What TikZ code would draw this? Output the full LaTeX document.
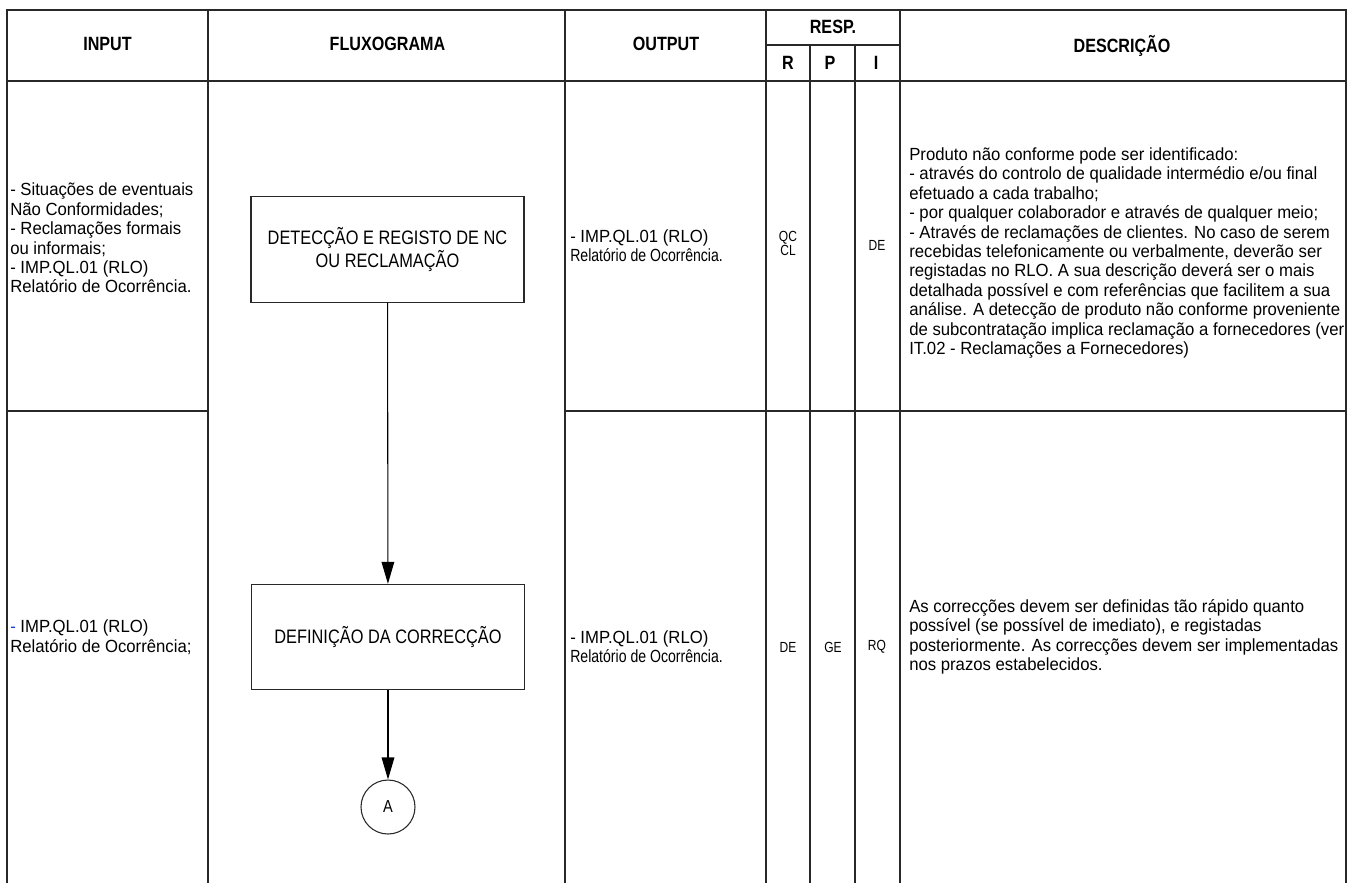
\documentclass[tikz,border=0pt]{standalone}
\usepackage{fontspec}
\setmainfont[FakeStretch=0.95]{Liberation Sans}
\newfontfamily\headfont[FakeStretch=0.84]{Liberation Sans}
\newfontfamily\narrowfont[FakeStretch=0.8]{Liberation Sans}
\newfontfamily\codefont[FakeStretch=0.82]{Liberation Sans}
\usetikzlibrary{arrows.meta}
\definecolor{rule}{RGB}{40,40,40}
\definecolor{dashblue}{RGB}{30,60,210}
\begin{document}
\begin{tikzpicture}[x=0.75pt,y=-0.75pt,
  grid/.style={draw=rule, line width=0.8pt},
  head/.style={font=\headfont\bfseries\fontsize{14.4}{16}\selectfont, inner sep=0, text height=10.3pt, text depth=0pt},
  bodytxt/.style={font=\fontsize{13.2}{14.6}\selectfont, align=left, anchor=west, inner sep=0},
  outtxt/.style={font=\fontsize{13.2}{14.3}\selectfont, align=left, anchor=west, inner sep=0},
  code/.style={font=\codefont\fontsize{11}{10.5}\selectfont, inner sep=0, align=center},
  procbox/.style={draw=rule, line width=0.8pt, minimum width=204.75pt, minimum height=79pt,
    inner sep=0, align=center, font=\headfont\fontsize{14.6}{14.6}\selectfont},
  connector/.style={draw=rule, line width=0.8pt, circle, minimum size=40.5pt, inner sep=0,
    font=\headfont\fontsize{13}{14}\selectfont},
  flow/.style={draw=black, line width=0.8pt, -{Triangle[length=16.5pt,width=9.5pt]}}
]
\useasboundingbox (0,0) rectangle (1351,883);

% table frame and header rules
\draw[grid] (7,883) -- (7,10) -- (1346,10) -- (1346,883);
\draw[grid] (7,81) -- (1346,81);
\draw[grid] (208,10) -- (208,883);
\draw[grid] (565,10) -- (565,883);
\draw[grid] (766,10) -- (766,883);
\draw[grid] (900,10) -- (900,883);
\draw[grid] (766,45) -- (900,45);
\draw[grid] (810,45) -- (810,883);
\draw[grid] (855,45) -- (855,883);
% row separator (the flowchart column stays open)
\draw[grid] (7,411) -- (208,411);
\draw[grid] (565,411) -- (1346,411);

% header labels
\node[head] (hIn)   at (107.5,44) {INPUT};
\node[head] (hFlow) at (387.5,44) {FLUXOGRAMA};
\node[head] (hOut)  at (666,44)   {OUTPUT};
\node[head] (hResp) at (833,27)   {RESP.};
\node[head] (hR)    at (788,63)   {R};
\node[head] (hP)    at (830,63)   {P};
\node[head] (hI)    at (876,63)   {I};
\node[head] (hDesc) at (1122,46)  {DESCRIÇÃO};

% row 1
\node[bodytxt] (in1) at (10,238) {- Situações de eventuais\\Não Conformidades;\\- Reclamações formais\\ou informais;\\- IMP.QL.01 (RLO)\\Relatório de Ocorrência.};
\node[outtxt] (out1) at (570,246) {- IMP.QL.01 (RLO)\\{\narrowfont Relatório de Ocorrência.}};
\node[code] (r1) at (788,243) {QC\\CL};
\node[code] (i1) at (877,245) {DE};
\node[bodytxt] (d1) at (909,253) {Produto não conforme pode ser identificado:\\
- através do controlo de qualidade intermédio e/ou final\\
efetuado a cada trabalho;\\
- por qualquer colaborador e através de qualquer meio;\\
- Através de reclamações de clientes. No caso de serem\\
recebidas telefonicamente ou verbalmente, deverão ser\\
registadas no RLO. A sua descrição deverá ser o mais\\
detalhada possível e com referências que facilitem a sua\\
análise. A detecção de produto não conforme proveniente\\
de subcontratação implica reclamação a fornecedores (ver\\
IT.02 - Reclamações a Fornecedores)};

% row 2
\node[bodytxt] (in2) at (10,637) {{\color{dashblue}-} IMP.QL.01 (RLO)\\Relatório de Ocorrência;};
\node[outtxt] (out2) at (570,647) {- IMP.QL.01 (RLO)\\{\narrowfont Relatório de Ocorrência.}};
\node[code] (r2) at (788,647) {DE};
\node[code] (p2) at (833,647) {GE};
\node[code] (i2) at (877,647) {RQ};
\node[bodytxt] (d2) at (909,637) {As correcções devem ser definidas tão rápido quanto\\
possível (se possível de imediato), e registadas\\
posteriormente. As correcções devem ser implementadas\\
nos prazos estabelecidos.};

% flowchart
\node[procbox] (detect) at (387.5,249.5) {DETECÇÃO E REGISTO DE NC\\OU RECLAMAÇÃO};
\node[procbox] (define) at (388,637) {DEFINIÇÃO DA CORRECÇÃO};
\node[connector] (conA) at (388,807) {A};
\draw[flow] (detect) -- (define);
\draw[flow] (define) -- (conA);
\end{tikzpicture}
\end{document}
